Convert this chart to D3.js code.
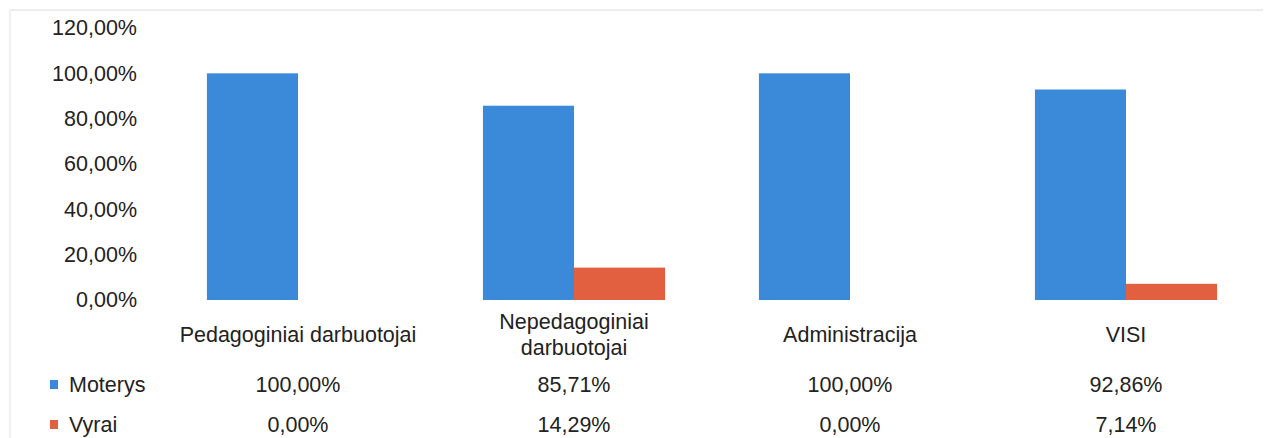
<!DOCTYPE html>
<html>
<head>
<meta charset="utf-8">
<script src="https://cdn.jsdelivr.net/npm/d3@7"></script>
<style>
  html, body { margin: 0; padding: 0; background: #fff; }
  svg { display: block; }
  text { font-family: "Liberation Sans", Arial, sans-serif; fill: #222; }
</style>
</head>
<body>
<svg id="chart" width="1271" height="438"></svg>
<script>
const categories = ["Pedagoginiai darbuotojai", "Nepedagoginiai darbuotojai", "Administracija", "VISI"];
const categoryLines = [["Pedagoginiai darbuotojai"], ["Nepedagoginiai", "darbuotojai"], ["Administracija"], ["VISI"]];
const seriesNames = ["Moterys", "Vyrai"];
const moterys = [1.0, 0.8571, 1.0, 0.9286];
const vyrai = [0.0, 0.1429, 0.0, 0.0714];
const tickValues = [0, 0.2, 0.4, 0.6, 0.8, 1.0, 1.2];
const colors = ["#3b8ad9", "#e2603f"];

const seriesValues = [moterys, vyrai];
const fmt = v => (v * 100).toFixed(2).replace(".", ",") + "%";
const FS = "21.5px";

const svg = d3.select("#chart");
const W = 1271, H = 438;

// faint scan frame
svg.append("line").attr("x1", 10).attr("x2", W - 8).attr("y1", 10).attr("y2", 10)
  .attr("stroke", "#ececec").attr("stroke-width", 2);
svg.append("line").attr("x1", 10).attr("x2", 10).attr("y1", 10).attr("y2", H)
  .attr("stroke", "#f0f0f0").attr("stroke-width", 2);

const x = d3.scaleBand().domain(categories).range([160, 1264]).paddingInner(0.34).paddingOuter(0.17);
const xs = d3.scaleBand().domain(seriesNames).range([0, x.bandwidth()]);
const y = d3.scaleLinear().domain([0, 1.2]).range([300, 28]);

// y axis labels
const yAxis = d3.axisLeft(y).tickValues(tickValues).tickFormat(fmt).tickSize(0).tickPadding(0);
const yg = svg.append("g").attr("transform", "translate(137,0)").call(yAxis);
yg.select(".domain").remove();
yg.selectAll("text").style("font-family", "Liberation Sans, Arial, sans-serif")
  .style("font-size", FS).attr("fill", "#222");

// bars
const groups = svg.append("g").selectAll("g").data(categories).join("g")
  .attr("transform", d => `translate(${x(d)},0)`);
groups.selectAll("rect")
  .data((d, i) => seriesNames.map((s, j) => ({ s, v: seriesValues[j][i], j })))
  .join("rect")
  .attr("x", d => xs(d.s))
  .attr("width", xs.bandwidth())
  .attr("y", d => y(d.v))
  .attr("height", d => y(0) - y(d.v))
  .attr("fill", d => colors[d.j]);

// category labels (data table header)
const cx = d => x(d) + x.bandwidth() / 2;
categories.forEach((c, i) => {
  const lines = categoryLines[i];
  const y0 = lines.length === 1 ? 335 : 322;
  lines.forEach((ln, k) => {
    svg.append("text").attr("x", cx(c)).attr("y", y0 + k * 26)
      .attr("text-anchor", "middle").attr("dominant-baseline", "central")
      .style("font-size", FS).text(ln);
  });
});

// data table rows
const rowY = [385, 425];
seriesNames.forEach((s, j) => {
  svg.append("rect").attr("x", 50).attr("y", rowY[j] - 5).attr("width", 8).attr("height", 9)
    .attr("fill", colors[j]);
  svg.append("text").attr("x", 69).attr("y", rowY[j]).attr("dominant-baseline", "central")
    .style("font-size", FS).text(s);
  categories.forEach((c, i) => {
    svg.append("text").attr("x", cx(c)).attr("y", rowY[j])
      .attr("text-anchor", "middle").attr("dominant-baseline", "central")
      .style("font-size", FS).text(fmt(seriesValues[j][i]));
  });
});
</script>
</body>
</html>
